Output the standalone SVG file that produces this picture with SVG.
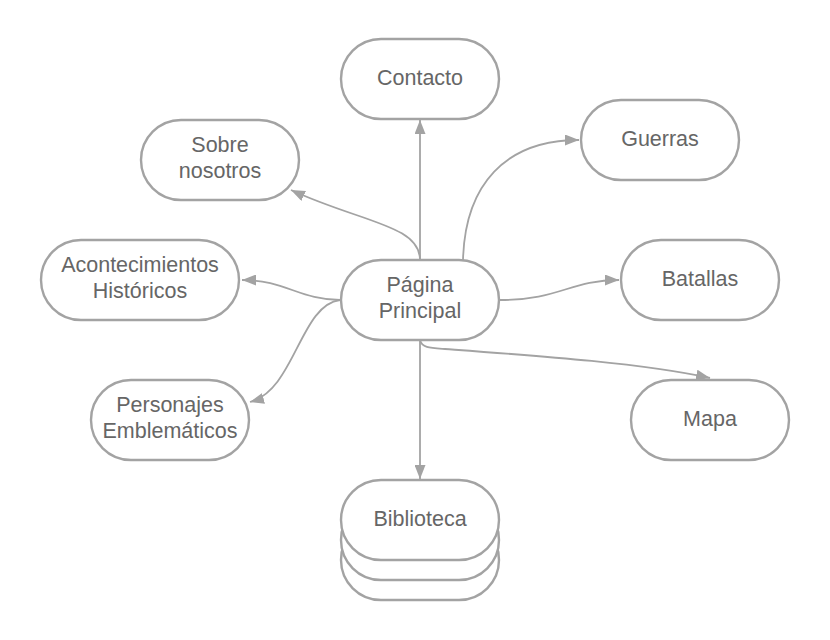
<svg xmlns="http://www.w3.org/2000/svg" width="830" height="640" viewBox="0 0 830 640">
<style>
.box{fill:#ffffff;stroke:#a3a3a3;stroke-width:2.4}
.lbl{font-family:"Liberation Sans",Arial,sans-serif;font-size:21.5px;fill:#666666;text-anchor:middle}
.con{fill:none;stroke:#a3a3a3;stroke-width:1.8}
</style>
<defs>
<marker id="arr" markerUnits="userSpaceOnUse" markerWidth="15" markerHeight="11" viewBox="0 0 15 11" refX="14" refY="5.5" orient="auto">
<path d="M0,0 L14,5.5 L0,11 z" fill="#a3a3a3"/>
</marker>
</defs>
<rect width="830" height="640" fill="#ffffff"/>
<g id="connectors">
<path class="con" marker-end="url(#arr)" d="M420,260 L420,120"/>
<path class="con" marker-end="url(#arr)" d="M420,260 C420,225 360,222 291,190"/>
<path class="con" marker-end="url(#arr)" d="M463,260 C465,185 505,140 579,140"/>
<path class="con" marker-end="url(#arr)" d="M340,300 C300,300 285,280 242,280"/>
<path class="con" marker-end="url(#arr)" d="M340,300 C300,305 295,390 250,402"/>
<path class="con" marker-end="url(#arr)" d="M500,300 C560,300 570,280 619,280"/>
<path class="con" marker-end="url(#arr)" d="M420,340 C422,348 430,348 445,349 C540,356 640,363 710,378"/>
<path class="con" marker-end="url(#arr)" d="M420,340 L420,479"/>
</g>
<g id="contacto">
<rect class="box" x="341" y="39" width="158" height="80" rx="40"/>
<text class="lbl" x="420" y="85">Contacto</text>
</g>
<g id="sobre">
<rect class="box" x="141" y="120" width="158" height="80" rx="40"/>
<text class="lbl" x="220" y="152">Sobre</text>
<text class="lbl" x="220" y="178">nosotros</text>
</g>
<g id="guerras">
<rect class="box" x="581" y="100" width="158" height="80" rx="40"/>
<text class="lbl" x="660" y="146">Guerras</text>
</g>
<g id="acontecimientos">
<rect class="box" x="41" y="240" width="198" height="80" rx="40"/>
<text class="lbl" x="140" y="272">Acontecimientos</text>
<text class="lbl" x="140" y="298">Históricos</text>
</g>
<g id="principal">
<rect class="box" x="341" y="260" width="158" height="80" rx="40"/>
<text class="lbl" x="420" y="292">Página</text>
<text class="lbl" x="420" y="318">Principal</text>
</g>
<g id="batallas">
<rect class="box" x="621" y="240" width="158" height="80" rx="40"/>
<text class="lbl" x="700" y="286">Batallas</text>
</g>
<g id="personajes">
<rect class="box" x="91" y="380" width="158" height="80" rx="40"/>
<text class="lbl" x="170" y="412">Personajes</text>
<text class="lbl" x="170" y="438">Emblemáticos</text>
</g>
<g id="mapa">
<rect class="box" x="631" y="380" width="158" height="80" rx="40"/>
<text class="lbl" x="710" y="426">Mapa</text>
</g>
<g id="biblioteca">
<rect class="box" x="341" y="520" width="158" height="80" rx="40"/>
<rect class="box" x="341" y="500" width="158" height="80" rx="40"/>
<rect class="box" x="341" y="480" width="158" height="80" rx="40"/>
<text class="lbl" x="420" y="526">Biblioteca</text>
</g>
</svg>
